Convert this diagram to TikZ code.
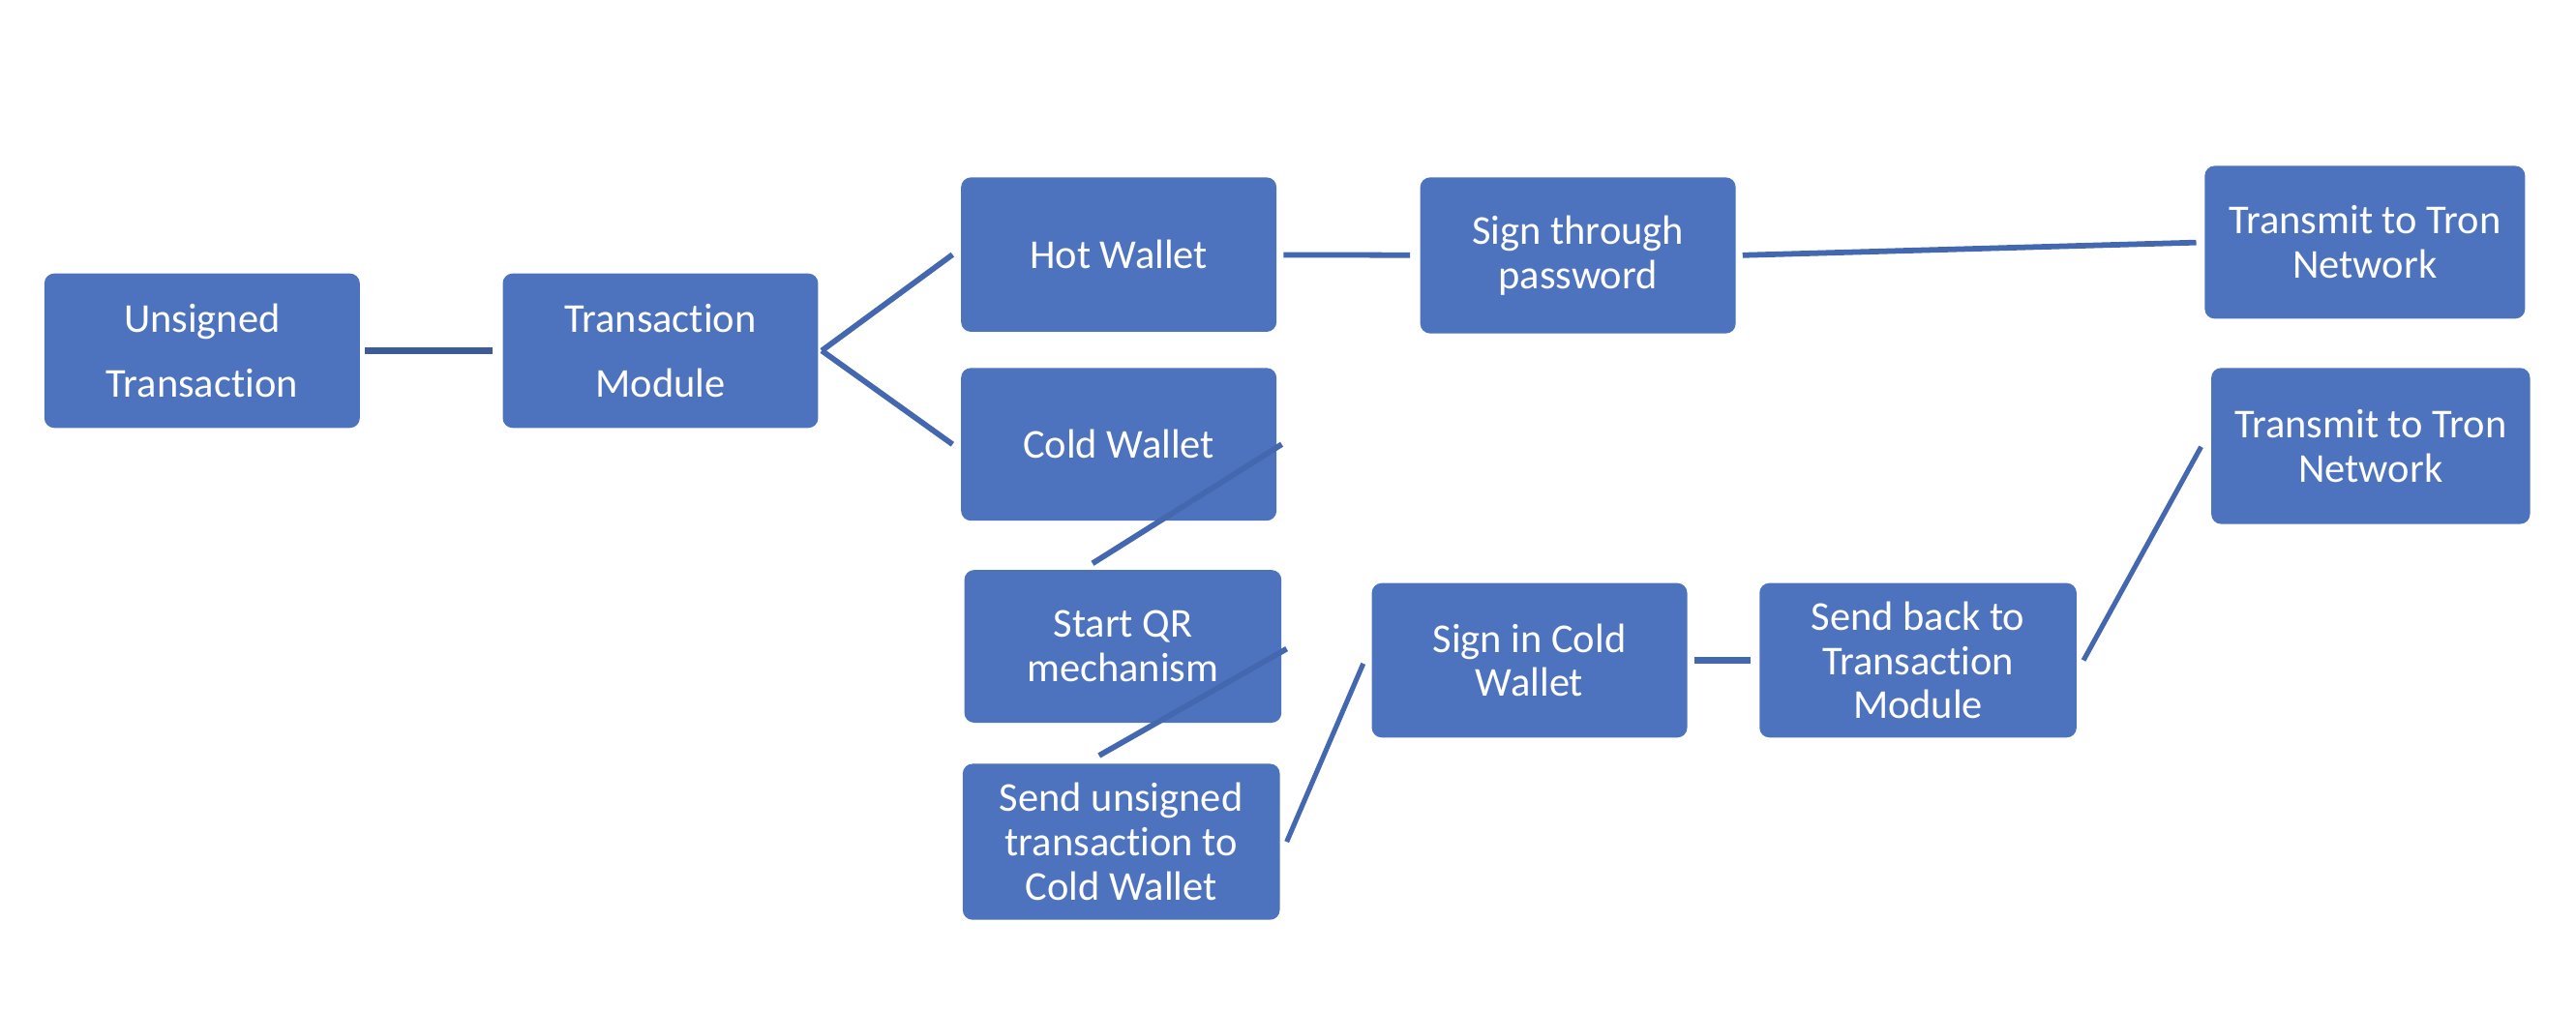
\documentclass[tikz,border=0pt]{standalone}
\usepackage{fontspec}
\setmainfont{Carlito}[Ligatures=CommonOff]
\usepackage{tikz}
\usetikzlibrary{shapes, arrows.meta, positioning}
\usepackage{xcolor}
\definecolor{boxblue}{RGB}{78,115,190}
\definecolor{linkblue}{RGB}{68,104,176}
\definecolor{darkblue}{RGB}{62,91,153}

\begin{document}
\begin{tikzpicture}[x=1pt, y=-1pt,
  box/.style={fill=boxblue, draw=none, rounded corners=6pt, text=white,
    minimum width=192pt, minimum height=94pt, inner sep=0pt, align=center,
    font=\fontsize{25}{27}\selectfont},
  wide/.style={font=\fontsize{25}{39}\selectfont},
  link/.style={draw=linkblue, line width=3.4pt}]
\useasboundingbox (0,0) rectangle (1568,616);

% 左侧
\node[box, wide] (unsigned) at (123,213.5) {Unsigned\\Transaction};
\node[box, wide] (module) at (402,213.5) {Transaction\\Module};
\draw[link, draw=darkblue, line width=4pt, shorten <=3pt, shorten >=6pt] (unsigned) -- (module);

% 热钱包
\node[box] (hot) at (681,155) {Hot Wallet};
\node[box, minimum height=95pt] (password) at (960.5,155.5) {Sign through\\password};
\node[box, minimum width=195pt, minimum height=93pt] (tron1) at (1439.5,147.5) {Transmit to Tron\\Network};
\draw[link] ([xshift=2pt]module.east) -- ([xshift=-5pt]hot.west);
\draw[link, shorten <=4pt, shorten >=6pt] (hot) -- (password);
\draw[link, shorten <=4pt, shorten >=5pt] (password.east) -- (tron1.west);

% 冷钱包
\node[box, minimum height=93pt] (cold) at (681,270.5) {Cold Wallet};
\node[box, minimum width=193pt, minimum height=93pt] (qr) at (683.5,393.5) {Start QR\\mechanism};
\node[box, minimum width=193pt, minimum height=95pt] (sendcold) at (682.5,512.5) {Send unsigned\\transaction to\\Cold Wallet};
\node[box] (signcold) at (931,402) {Sign in Cold\\Wallet};
\node[box, minimum width=193pt] (sendback) at (1167.5,402) {Send back to\\Transaction\\Module};
\node[box, minimum width=194pt, minimum height=95pt] (tron2) at (1443,271.5) {Transmit to Tron\\Network};
\coordinate (qrtop) at (665,343);
\coordinate (sendtop) at (669,460);
\draw[link] ([xshift=2pt]module.east) -- ([xshift=-5pt]cold.west);
\draw[link] ([xshift=3pt]cold.east) -- (qrtop);
\draw[link] ([shift={(3pt,1.5)}]qr.east) -- (sendtop);
\draw[link, line width=3pt] ([shift={(4pt,0)}]sendcold.east) -- ([shift={(-5pt,2)}]signcold.west);
\draw[link, line width=3.8pt, shorten <=4pt, shorten >=5pt] (signcold) -- (sendback);
\draw[link, line width=3pt] ([xshift=4pt]sendback.east) -- ([shift={(-6pt,0.5)}]tron2.west);
\end{tikzpicture}
\end{document}
